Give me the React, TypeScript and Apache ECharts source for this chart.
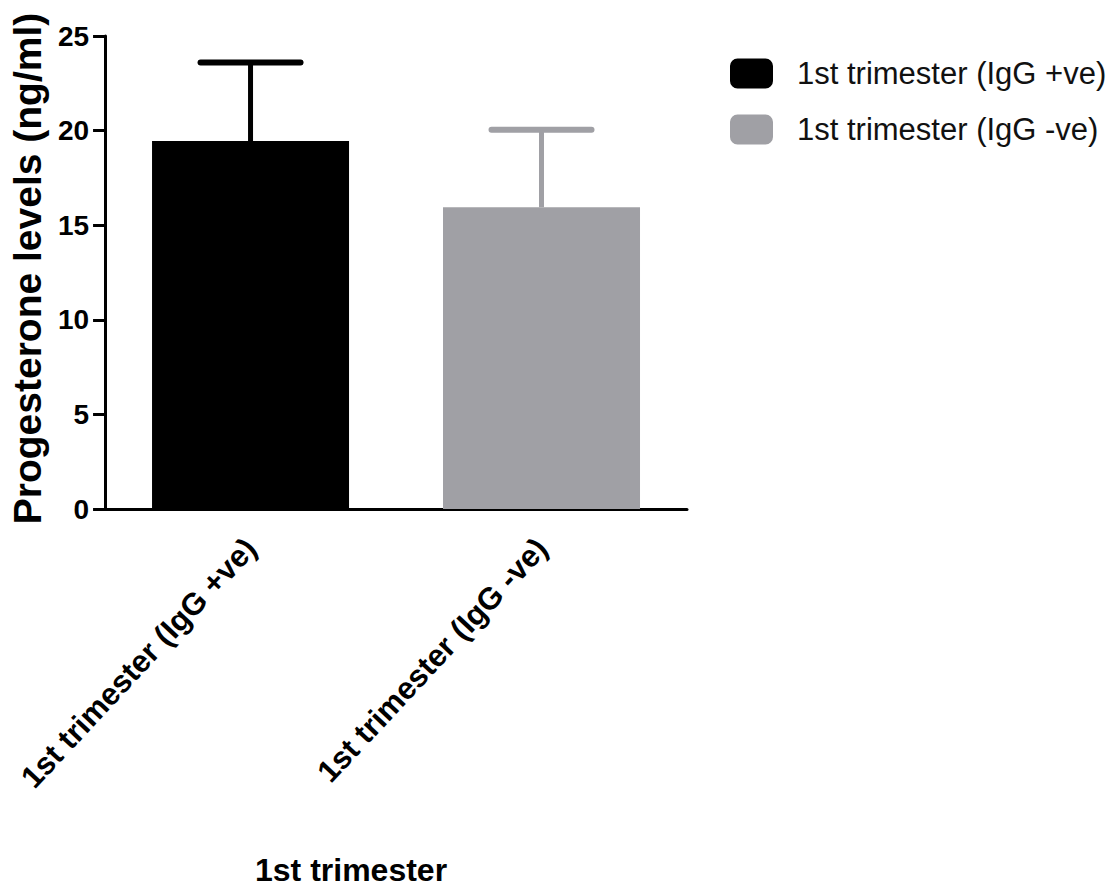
import React, { useEffect, useRef } from "react";
import * as echarts from "echarts";

// Progesterone levels, mean with upward SD, per first-trimester group
const categories = ["1st trimester (IgG +ve)", "1st trimester (IgG -ve)"];
const means = [19.45, 15.95];
const sds = [4.15, 4.1];
const barColors = ["#000000", "#a0a0a5"];
const yMin = 0;
const yMax = 25;
const yStep = 5;

const FONT = "'Liberation Sans', Arial, sans-serif";

export default function App() {
  const ref = useRef<HTMLDivElement>(null);

  useEffect(() => {
    if (!ref.current) return;
    const chart = echarts.init(ref.current, undefined, { renderer: "svg" });

    const barSeries = categories.map((name, i) => ({
      name,
      type: "bar" as const,
      stack: "groups",
      barWidth: 197,
      itemStyle: { color: barColors[i] },
      data: categories.map((_, j) => (j === i ? means[i] : "-")),
      z: 2,
    }));

    const errorData = categories.map((_, i) => ({
      value: [i, means[i], means[i] + sds[i]],
      itemStyle: { color: barColors[i] },
    }));

    chart.setOption({
      animation: false,
      backgroundColor: "#ffffff",
      textStyle: { fontFamily: FONT },
      grid: { left: 103, right: 431, top: 36, bottom: 386, containLabel: false },
      legend: {
        orient: "vertical",
        left: 725,
        top: 53,
        data: categories,
        icon: "roundRect",
        itemWidth: 43,
        itemHeight: 30,
        itemGap: 25,
        textStyle: { fontSize: 31, color: "#111111", fontFamily: FONT, padding: [0, 0, 0, 19] },
      },
      xAxis: {
        type: "category",
        data: categories,
        axisLine: { lineStyle: { color: "#000", width: 3 } },
        axisTick: { alignWithLabel: true, length: 13, lineStyle: { color: "#000", width: 3 } },
        axisLabel: {
          rotate: 47,
          interval: 0,
          margin: 34,
          fontSize: 31,
          fontWeight: "bold",
          color: "#000",
          fontFamily: FONT,
        },
      },
      yAxis: {
        type: "value",
        min: yMin,
        max: yMax,
        interval: yStep,
        name: "Progesterone levels (ng/ml)",
        nameLocation: "middle",
        nameGap: 57,
        nameTextStyle: { fontSize: 39, fontWeight: "bold", color: "#000", fontFamily: FONT, padding: [0, 0, 0, 8] },
        splitLine: { show: false },
        axisLine: { show: true, lineStyle: { color: "#000", width: 3 } },
        axisTick: { show: true, length: 12, lineStyle: { color: "#000", width: 3 } },
        axisLabel: { fontSize: 28, fontWeight: "bold", color: "#000", margin: 16, fontFamily: FONT },
      },
      graphic: [
        {
          type: "text",
          left: 255,
          top: 854,
          style: {
            text: "1st trimester",
            fontSize: 32,
            fontWeight: "bold",
            fill: "#000",
            fontFamily: FONT,
          },
        },
      ],
      series: [
        ...barSeries,
        {
          type: "custom",
          name: "SD",
          z: 3,
          data: errorData,
          renderItem: (params: any, api: any) => {
            const base = api.coord([api.value(0), api.value(1)]);
            const top = api.coord([api.value(0), api.value(2)]);
            const color = api.visual("color");
            const half = 50;
            return {
              type: "group",
              children: [
                {
                  type: "line",
                  shape: { x1: base[0], y1: base[1], x2: top[0], y2: top[1] },
                  style: { stroke: color, lineWidth: 5 },
                },
                {
                  type: "line",
                  shape: { x1: top[0] - half, y1: top[1], x2: top[0] + half, y2: top[1] },
                  style: { stroke: color, lineWidth: 6, lineCap: "round" },
                },
              ],
            };
          },
        },
      ],
    });

    return () => chart.dispose();
  }, []);

  return (
    <div
      ref={ref}
      style={{ position: "fixed", left: 0, top: 0, width: 1118, height: 895, background: "#fff" }}
    />
  );
}
